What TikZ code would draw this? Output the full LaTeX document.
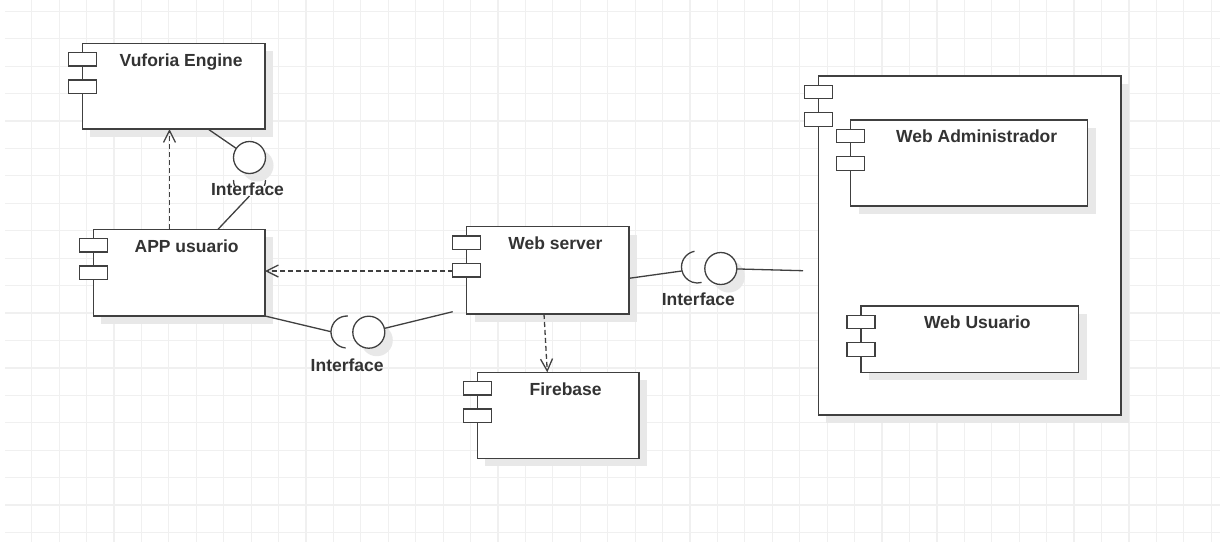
\documentclass[tikz,border=0pt]{standalone}
\usepackage{fontspec}
\setmainfont{Liberation Sans}
\usetikzlibrary{arrows.meta}
\definecolor{gridc}{HTML}{F0F0F0}
\definecolor{lnc}{HTML}{404040}
\definecolor{txtc}{HTML}{333333}
\definecolor{shc}{HTML}{E8E8E8}
\tikzset{
 gridl/.style={draw=gridc, line width=1.2pt},
 box/.style={draw=lnc, line width=1.4pt, fill=white, inner sep=0pt, outer sep=0pt, anchor=north west},
 icon/.style={draw=lnc, line width=1.3pt, fill=white},
 ttl/.style={font=\fontsize{17.5}{20}\selectfont\bfseries, text=txtc, anchor=base, inner sep=0pt},
 conn/.style={draw=lnc, line width=1.3pt},
 dep/.style={draw=lnc, line width=1.3pt, dash pattern=on 5pt off 3pt, -{Straight Barb[length=12pt,width=12pt]}},
 ball/.style={circle, draw=lnc, line width=1.3pt, fill=white, minimum size=32pt, inner sep=0pt, outer sep=0pt},
 ilabel/.style={font=\fontsize{17.5}{20}\selectfont\bfseries, text=txtc, anchor=base, inner sep=1pt},
}
\newcommand\umlcomp[6]{%
  \fill[shc] (#2+8,#3+8) rectangle (#4+8,#5+8);
  \pgfmathsetmacro\cw{#4-#2}\pgfmathsetmacro\ch{#5-#3}
  \node[box, minimum width=\cw pt, minimum height=\ch pt] (#1) at (#2,#3) {};
  \draw[icon] (#2-14,#3+9.3) rectangle ++(28,13.5);
  \draw[icon] (#2-14,#3+36.7) rectangle ++(28,13.5);
  \node[ttl] (#1-t) at ({(#2+15+#4)/2},#3+22.8) {#6};
}
\begin{document}
\begin{tikzpicture}[x=1pt,y=-1pt]
\fill[white] (0,0) rectangle (1220,542);
\useasboundingbox (0,0) rectangle (1220,542);
% grid
\foreach \k in {0,...,43} {\draw[gridl] ({31.7+27.43*\k},0) -- ({31.7+27.43*\k},542);}
\foreach \k in {0,...,19} {\draw[gridl] (5,{11.3+27.43*\k}) -- (1220,{11.3+27.43*\k});}

% components
\umlcomp{vuf}{82.3}{43.3}{265}{129}{Vuforia Engine}
\umlcomp{app}{93.3}{229.3}{265}{316}{APP usuario}
\umlcomp{ws}{466.7}{226.7}{629}{314}{Web server}
\umlcomp{fb}{477.3}{372.3}{639}{458.3}{Firebase}
\umlcomp{cont}{818.3}{76}{1121}{415}{}
\umlcomp{wa}{850.7}{120}{1087.7}{206}{Web Administrador}
\umlcomp{wu}{861}{306}{1078.7}{372.3}{Web Usuario}

% balls with shadows
\fill[shc] (257.5,165.5) circle[radius=16pt];
\node[ball] (b1) at (249.5,157.5) {};
\fill[shc] (376.8,340.2) circle[radius=16pt];
\node[ball] (b2) at (368.8,332.2) {};
\fill[shc] (728.8,276.5) circle[radius=16pt];
\node[ball] (b3) at (720.8,268.5) {};

% socket centres and connector ends
\coordinate (s1c) at (249.5,180);
\coordinate (s1b) at (249.5,196);
\coordinate (s2c) at (347,332);
\coordinate (s2l) at (331,331.7);
\coordinate (s3c) at (697.5,267);
\coordinate (s3l) at (681.7,271);
\coordinate (v1) at (208,129);
\coordinate (a1) at (218,229.3);
\coordinate (w2) at (452.7,311.7);
\coordinate (w3) at (629,278.3);
\coordinate (c3) at (803,270.7);
\coordinate (d1s) at (169.5,229.3);
\coordinate (d1e) at (169.5,129);
\coordinate (d2s) at (452.7,271);
\coordinate (d3s) at (544,314);
\coordinate (d3e) at (547.3,372.3);

% interface 1 (Vuforia / APP)
\draw[conn] (v1) -- (b1);
\draw[conn] (s1c) ++(180:16pt) arc[start angle=180,end angle=360,radius=16pt];
\node[ilabel, fill=white, inner sep=0pt, text height=9pt, text depth=2pt] (l1) at (247.5,195) {Interface};
\draw[conn] (a1) -- (s1b);

% interface 2 (APP / Web server)
\draw[conn] (app.south east) -- (s2l);
\draw[conn] (s2c) ++(87:16pt) arc[start angle=87,end angle=265,radius=16pt];
\draw[conn] (b2) -- (w2);
\node[ilabel] (l2) at (347.2,371.7) {Interface};

% interface 3 (Web server / container)
\draw[conn] (w3) -- (s3l);
\draw[conn] (s3c) ++(101:16pt) arc[start angle=101,end angle=285,radius=16pt];
\draw[conn] (b3) -- (c3);
\node[ilabel] (l3) at (698.3,305) {Interface};

% dependencies
\draw[dep] (d1s) -- (d1e);
\draw[dep] (d2s) -- (d2s -| app.east);
\draw[dep] (d3s) -- (d3e);
\end{tikzpicture}
\end{document}
